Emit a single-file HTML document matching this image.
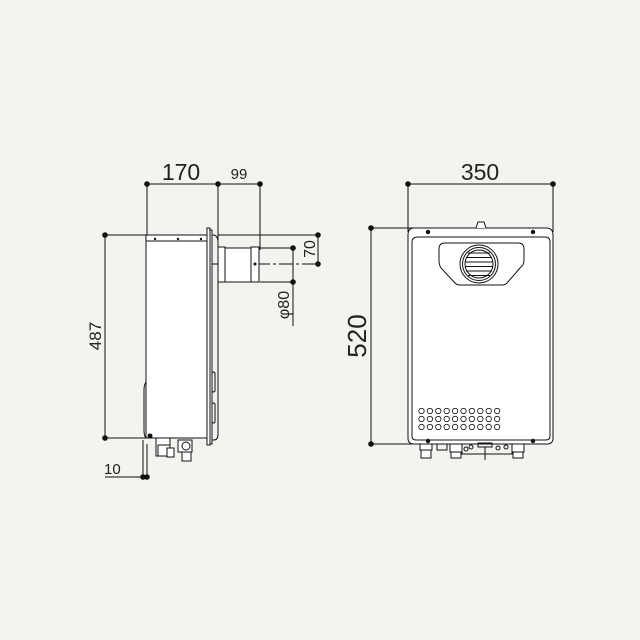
<!DOCTYPE html>
<html><head><style>
html,body{margin:0;padding:0;background:#f4f3ef;}
svg{display:block}
text{font-family:"Liberation Sans",sans-serif;fill:#222}
</style></head><body>
<svg width="640" height="640" viewBox="0 0 640 640" xmlns="http://www.w3.org/2000/svg">
<rect width="640" height="640" fill="#f4f3ef"/>
<g stroke="#111" stroke-width="1" fill="none">
<!-- SIDE VIEW dims -->
<line x1="147" y1="184" x2="260" y2="184"/>
<line x1="147" y1="184" x2="147" y2="238"/>
<line x1="218" y1="184" x2="218" y2="240"/>
<line x1="260" y1="184" x2="260" y2="250"/>
<line x1="105" y1="235" x2="105" y2="438"/>
<line x1="105" y1="235" x2="146" y2="235"/>
<line x1="105" y1="438" x2="146" y2="438"/>
<line x1="218" y1="235" x2="318" y2="235"/>
<line x1="318" y1="235" x2="318" y2="264"/>
<line x1="210" y1="264" x2="318" y2="264" stroke-dasharray="14,3,3,3"/>
<line x1="260" y1="248" x2="293" y2="248"/>
<line x1="260" y1="282" x2="293" y2="282"/>
<line x1="293" y1="248" x2="293" y2="326"/>
<line x1="105" y1="477" x2="147" y2="477"/>
<line x1="143" y1="440" x2="143" y2="477"/>
<line x1="147" y1="444" x2="147" y2="477"/>
<!-- side body -->
<rect x="146" y="235" width="61" height="203" fill="#fff"/>
<line x1="146" y1="241" x2="207" y2="241"/>
<path d="M146 382 Q144 385 144 390 L144 430 Q144 436 146 438"/>
<rect x="207" y="228" width="3" height="217" fill="#fff"/>
<rect x="210" y="230" width="2" height="214" fill="#fff"/>
<path d="M212 235 L214 235 Q218 236 218 242 L218 434 Q218 440 214 440 L212 440"/>
<rect x="212" y="372" width="3" height="20" rx="1.5"/>
<rect x="212" y="403" width="3" height="20" rx="1.5"/>
<rect x="218" y="247" width="7" height="35" fill="#fff"/>
<rect x="225" y="248" width="26" height="34" fill="#fff"/>
<rect x="251" y="247" width="8" height="35" fill="#fff"/>
<!-- fittings -->
<rect x="156" y="438" width="14" height="18" fill="#fff"/>
<rect x="158" y="445" width="12" height="11"/>
<rect x="167" y="448" width="7" height="9" fill="#fff"/>
<rect x="178" y="440" width="14" height="12" fill="#fff"/>
<circle cx="186" cy="446" r="4"/>
<rect x="182" y="452" width="9" height="9" fill="#fff"/>
<!-- FRONT VIEW dims -->
<line x1="408" y1="184" x2="553" y2="184"/>
<line x1="408" y1="184" x2="408" y2="232"/>
<line x1="553" y1="184" x2="553" y2="232"/>
<line x1="371" y1="228" x2="371" y2="444"/>
<line x1="371" y1="228" x2="480" y2="228"/>
<line x1="371" y1="444" x2="412" y2="444"/>
<!-- front body -->
<path d="M414 228 L546 228 Q553 228 553 235 L553 438 Q553 444 547 444 L414 444 Q408 444 408 438 L408 235 Q408 228 414 228 Z" fill="#fff"/>
<path d="M418 237 L545 237 Q550 237 550 242 L550 436 Q550 440 546 440 L416 440 Q412 440 412 436 L412 242 Q412 237 418 237 Z"/>
<path d="M476 228 L478 222 L484 222 L486 228" fill="#fff"/>
<path d="M445 243 L518 243 Q524 243 524 249 L524 260 Q524 265 520 268 L507 283 Q505 285 502 285 L460 285 Q457 285 455 283 L441 268 Q439 265 439 260 L439 249 Q439 243 445 243 Z" fill="#fff"/>
<circle cx="479" cy="264" r="19" fill="#fff"/>
<circle cx="479" cy="264" r="16.5"/>
<circle cx="479" cy="264" r="14"/>
<g stroke-width="0.9">
<line x1="468" y1="253" x2="490" y2="253"/>
<line x1="466" y1="257.5" x2="492" y2="257.5"/>
<line x1="465" y1="262" x2="493" y2="262"/>
<line x1="465" y1="266.5" x2="493" y2="266.5"/>
<line x1="466" y1="271" x2="492" y2="271"/>
<line x1="468" y1="275.5" x2="490" y2="275.5"/>
</g>
<!-- bottom fittings front -->
<rect x="420" y="444" width="12" height="6" fill="#fff"/>
<rect x="421" y="450" width="10" height="8" fill="#fff"/>
<rect x="437" y="444" width="10" height="6"/>
<rect x="450" y="444" width="12" height="8" fill="#fff"/>
<rect x="451" y="452" width="10" height="6" fill="#fff"/>
<rect x="462" y="444" width="50" height="10"/>
<rect x="478" y="443" width="14" height="4"/>
<line x1="485" y1="447" x2="485" y2="460"/>
<rect x="512" y="444" width="12" height="8" fill="#fff"/>
<rect x="513" y="452" width="10" height="6" fill="#fff"/>
<circle cx="466" cy="449" r="2"/><circle cx="471" cy="447" r="2"/>
<circle cx="498" cy="448" r="2"/><circle cx="506" cy="447" r="2"/>
</g>
<!-- holes -->
<g stroke="#111" stroke-width="0.8" fill="none">
<g id="row">
<circle cx="421.5" cy="411" r="2.7"/><circle cx="429.9" cy="411" r="2.7"/><circle cx="438.3" cy="411" r="2.7"/><circle cx="446.7" cy="411" r="2.7"/><circle cx="455.1" cy="411" r="2.7"/><circle cx="463.5" cy="411" r="2.7"/><circle cx="471.9" cy="411" r="2.7"/><circle cx="480.3" cy="411" r="2.7"/><circle cx="488.7" cy="411" r="2.7"/><circle cx="497.1" cy="411" r="2.7"/>
</g>
<use href="#row" y="8"/>
<use href="#row" y="16"/>
</g>
<!-- dots -->
<g fill="#111">
<circle cx="147" cy="184" r="2.8"/><circle cx="218" cy="184" r="2.8"/><circle cx="260" cy="184" r="2.8"/>
<circle cx="408" cy="184" r="2.8"/><circle cx="553" cy="184" r="2.8"/>
<circle cx="105" cy="235" r="2.8"/><circle cx="105" cy="438" r="2.8"/>
<circle cx="371" cy="228" r="2.8"/><circle cx="371" cy="444" r="2.8"/>
<circle cx="318" cy="235" r="2.8"/><circle cx="318" cy="264" r="2.8"/>
<circle cx="293" cy="248" r="2.8"/><circle cx="293" cy="282" r="2.8"/>
<circle cx="143" cy="477" r="2.8"/><circle cx="147" cy="477" r="2.8"/>
<circle cx="150" cy="436" r="2.5"/><circle cx="255" cy="264" r="1.5"/>
<circle cx="155" cy="239" r="1.2"/><circle cx="178" cy="239" r="1.2"/><circle cx="201" cy="239" r="1.2"/>
<circle cx="428" cy="232" r="2.2"/><circle cx="533" cy="232" r="2.2"/>
<circle cx="428" cy="441" r="2.2"/><circle cx="533" cy="441" r="2.2"/>
</g>
<!-- labels -->
<text x="181" y="180" font-size="23" text-anchor="middle">170</text>
<text x="239" y="179" font-size="15" text-anchor="middle">99</text>
<text x="480" y="180" font-size="23" text-anchor="middle">350</text>
<text x="104" y="474" font-size="15">10</text>
<text transform="translate(101,336) rotate(-90)" font-size="17" text-anchor="middle">487</text>
<text transform="translate(366,336) rotate(-90)" font-size="26" text-anchor="middle">520</text>
<text transform="translate(315,249) rotate(-90)" font-size="16" text-anchor="middle">70</text>
<text transform="translate(289,305) rotate(-90)" font-size="16" text-anchor="middle">φ80</text>
</svg>
</body></html>
